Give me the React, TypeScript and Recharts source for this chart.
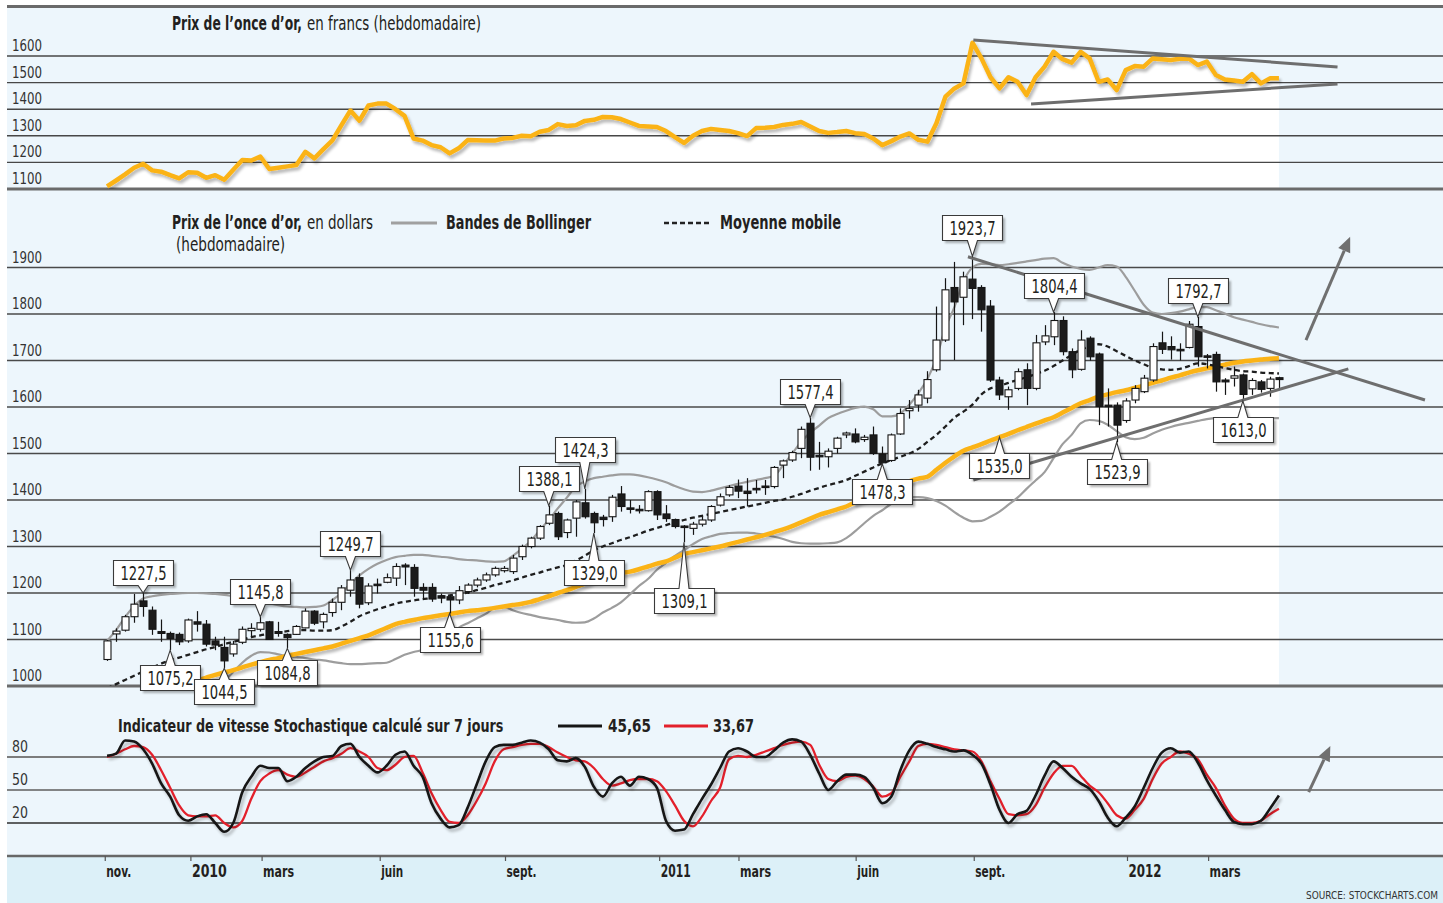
import React, { useLayoutEffect, useRef, useState } from 'react';
import { ComposedChart, Line, Area, Bar, XAxis, YAxis, ReferenceLine, ReferenceDot } from 'recharts';

const FONT = "'DejaVu Sans Condensed','Liberation Sans Narrow','Arial Narrow',sans-serif";
const GOLD = '#fbb316';
const TEXT = '#231f20';

// ---------- weekly candles (USD), index 0 = first week of Nov 2009 ----------
const OPEN = [
  1057,1112,1120,1149,1183,1163,1117,1113,1111,1097,
  1138,1133,1097,1083,1069,1094,1119,1122,1138,1117,
  1111,1111,1125,1161,1138,1158,1180,1206,1233,1179,
  1219,1223,1232,1260,1255,1212,1212,1194,1192,1185,
  1203,1217,1228,1239,1248,1246,1278,1300,1318,1350,
  1371,1330,1361,1394,1371,1363,1364,1413,1383,1380,
  1377,1418,1370,1358,1344,1339,1348,1357,1389,1411,
  1430,1419,1425,1430,1429,1475,1486,1511,1565,1496,
  1493,1511,1540,1542,1530,1540,1499,1485,1542,1592,
  1604,1619,1680,1744,1857,1836,1875,1857,1817,1658,
  1622,1640,1680,1640,1740,1751,1786,1719,1681,1748,
  1714,1604,1604,1571,1615,1633,1658,1738,1730,1724,
  1728,1773,1710,1713,1658,1662,1669,1639,1654,1640,
  1663,
];
const CLOSE = [
  1097,1118,1149,1176,1171,1122,1113,1102,1095,1142,
  1133,1090,1088,1054,1090,1122,1124,1136,1100,1113,
  1104,1128,1161,1135,1154,1180,1211,1228,1176,1215,
  1216,1233,1257,1256,1210,1206,1187,1189,1185,1205,
  1217,1228,1239,1253,1253,1275,1300,1318,1343,1368,
  1321,1357,1396,1364,1351,1358,1406,1386,1380,1377,
  1418,1368,1360,1343,1342,1348,1357,1386,1407,1427,
  1419,1414,1423,1428,1470,1484,1502,1552,1492,1494,
  1505,1533,1544,1525,1535,1500,1480,1540,1586,1597,
  1626,1659,1744,1852,1826,1880,1855,1809,1658,1626,
  1637,1676,1640,1738,1753,1786,1719,1680,1744,1708,
  1601,1601,1561,1613,1640,1662,1730,1724,1723,1721,
  1778,1708,1708,1654,1654,1667,1627,1657,1638,1660,
  1659,
];
const HIGH = [
  1099,1124,1153,1198,1200,1171,1143,1117,1115,1145,
  1161,1142,1106,1106,1097,1128,1135,1149,1140,1138,
  1113,1131,1167,1163,1158,1188,1217,1249,1242,1221,
  1231,1242,1264,1264,1262,1221,1221,1199,1196,1215,
  1221,1233,1244,1257,1258,1282,1304,1321,1346,1388,
  1375,1360,1400,1424,1375,1368,1411,1430,1400,1389,
  1421,1421,1389,1360,1346,1353,1364,1389,1414,1432,
  1444,1447,1443,1443,1473,1487,1506,1558,1577,1525,
  1511,1536,1547,1554,1540,1558,1515,1543,1597,1615,
  1637,1677,1816,1877,1912,1891,1924,1862,1830,1665,
  1644,1683,1694,1755,1776,1804,1795,1726,1765,1752,
  1717,1640,1610,1619,1647,1669,1737,1762,1752,1737,
  1785,1794,1714,1719,1662,1687,1672,1662,1658,1665,
  1665,
];
const LOW = [
  1054,1095,1117,1136,1149,1110,1095,1077,1088,1093,
  1117,1085,1077,1038,1063,1090,1106,1117,1099,1106,
  1081,1110,1124,1131,1124,1149,1163,1192,1167,1174,
  1199,1221,1215,1217,1192,1185,1181,1178,1156,1176,
  1198,1212,1224,1235,1244,1241,1271,1296,1314,1346,
  1314,1318,1321,1360,1329,1343,1353,1375,1371,1371,
  1375,1357,1353,1339,1309,1325,1343,1353,1386,1407,
  1404,1386,1414,1411,1425,1447,1482,1490,1463,1465,
  1470,1500,1533,1522,1525,1497,1478,1482,1540,1575,
  1590,1608,1676,1740,1701,1776,1789,1762,1654,1615,
  1594,1636,1604,1636,1733,1733,1711,1662,1678,1700,
  1561,1558,1524,1566,1608,1630,1654,1714,1702,1700,
  1726,1687,1683,1633,1626,1644,1613,1626,1631,1622,
  1640,
];
// long moving average (yellow)
const MA_LONG = [
  null,null,null,null,null,985,990,995,1001,1007,
  1012,1018,1024,1029,1034,1040,1046,1051,1056,1060,
  1065,1069,1073,1077,1081,1085,1091,1097,1103,1109,
  1117,1125,1133,1138,1142,1146,1149,1152,1155,1158,
  1161,1163,1165,1168,1171,1174,1177,1181,1187,1193,
  1200,1206,1213,1220,1229,1236,1240,1243,1246,1251,
  1257,1263,1268,1276,1284,1288,1292,1296,1300,1305,
  1310,1315,1320,1325,1331,1337,1344,1352,1360,1368,
  1374,1380,1386,1395,1403,1410,1417,1423,1429,1440,
  1446,1450,1465,1480,1494,1506,1513,1520,1528,1535,
  1542,1550,1557,1564,1571,1578,1588,1598,1608,1615,
  1622,1627,1632,1636,1641,1646,1652,1657,1663,1668,
  1674,1679,1683,1687,1691,1695,1698,1700,1702,1704,
  1705,
];
// short moving average (dashed)
const MA_SHORT = [
  995,1004,1013,1022,1031,1040,1048,1055,1061,1067,
  1073,1079,1084,1090,1095,1100,1105,1109,1112,1115,
  1118,1120,1120,1119,1119,1120,1128,1138,1150,1158,
  1165,1171,1177,1181,1184,1187,1189,1192,1195,1198,
  1201,1206,1211,1217,1222,1227,1233,1239,1244,1250,
  1255,1260,1270,1280,1292,1300,1307,1314,1320,1327,
  1334,1340,1346,1352,1357,1362,1366,1370,1374,1378,
  1382,1386,1390,1394,1398,1401,1407,1413,1420,1426,
  1432,1437,1443,1452,1461,1470,1479,1486,1493,1500,
  1510,1525,1540,1558,1577,1590,1605,1627,1640,1645,
  1652,1658,1664,1671,1678,1688,1700,1712,1723,1730,
  1735,1730,1720,1710,1700,1692,1684,1681,1680,1682,
  1688,1694,1692,1688,1684,1680,1677,1676,1674,1673,
  1672,
];
const BB_UPPER = [
  1097,1120,1148,1172,1188,1193,1196,1198,1199,1200,
  1200,1199,1198,1196,1193,1190,1186,1182,1178,1174,
  1171,1170,1169,1170,1173,1185,1200,1220,1238,1252,
  1263,1271,1277,1280,1282,1282,1280,1278,1276,1273,
  1271,1270,1268,1267,1268,1280,1295,1312,1335,1357,
  1382,1405,1429,1440,1447,1450,1453,1455,1455,1453,
  1449,1444,1438,1430,1423,1418,1417,1420,1425,1430,
  1435,1439,1443,1447,1452,1475,1500,1525,1545,1560,
  1576,1585,1592,1598,1601,1595,1580,1580,1586,1605,
  1630,1660,1705,1770,1815,1870,1900,1908,1907,1905,
  1907,1910,1913,1916,1919,1920,1910,1902,1897,1895,
  1900,1905,1902,1880,1850,1820,1803,1800,1802,1805,
  1810,1815,1815,1808,1801,1793,1788,1783,1778,1774,
  1771,
];
const BB_LOWER = [
  990,982,975,970,965,962,960,960,961,963,
  966,975,990,1010,1030,1050,1065,1073,1072,1068,
  1064,1062,1060,1057,1055,1052,1049,1047,1047,1048,
  1049,1050,1058,1067,1073,1077,1082,1090,1105,1125,
  1135,1145,1155,1168,1170,1163,1157,1153,1148,1145,
  1142,1138,1136,1137,1145,1158,1168,1180,1197,1215,
  1230,1250,1265,1280,1292,1305,1316,1322,1327,1329,
  1330,1330,1328,1325,1321,1316,1310,1307,1306,1306,
  1307,1309,1318,1333,1350,1366,1378,1392,1401,1406,
  1406,1404,1398,1388,1374,1362,1354,1355,1364,1375,
  1390,1405,1424,1442,1460,1490,1520,1540,1565,1572,
  1570,1562,1548,1535,1531,1534,1543,1551,1557,1562,
  1566,1570,1574,1576,1576,1575,1574,1574,1575,1576,
  1576,
];
// weekly gold price in francs (top panel)
const FRANCS = [
  1110,1132,1155,1180,1195,1170,1165,1152,1140,1163,
  1161,1142,1152,1135,1172,1209,1207,1222,1175,1180,
  1185,1190,1240,1215,1250,1283,1340,1395,1357,1414,
  1421,1421,1400,1375,1290,1282,1265,1257,1234,1253,
  1284,1283,1282,1282,1290,1292,1300,1298,1315,1322,
  1344,1337,1340,1356,1360,1371,1370,1363,1350,1337,
  1335,1333,1318,1295,1273,1300,1318,1326,1322,1318,
  1310,1299,1329,1330,1333,1341,1345,1352,1335,1318,
  1311,1314,1318,1310,1307,1290,1265,1280,1297,1309,
  1285,1278,1347,1447,1478,1497,1650,1591,1520,1478,
  1520,1503,1453,1520,1560,1616,1588,1575,1616,1591,
  1503,1512,1472,1547,1562,1560,1591,1588,1585,1590,
  1591,1566,1579,1529,1512,1508,1503,1532,1497,1516,
  1516,
];
// stochastic oscillator (black %K, red %D)
const STOCH_K = [
  81,83,95,94,87,74,56,44,27,22,
  26,28,20,12,20,48,62,72,70,70,
  58,62,70,76,80,81,90,92,80,72,
  66,72,82,85,72,62,38,24,16,18,
  34,55,76,89,91,91,93,95,93,87,
  77,76,79,71,53,44,56,62,54,62,
  60,52,22,13,14,28,42,55,70,85,
  88,85,80,80,86,93,96,94,82,65,
  50,58,64,64,62,52,38,44,68,86,
  94,92,89,87,85,86,82,74,55,32,
  20,28,31,45,63,76,70,62,56,51,
  40,25,17,25,35,52,70,84,88,84,
  85,75,59,45,32,21,19,19,22,33,
  45,
];
const STOCH_D = [
  80,83,87,90,89,82,68,52,36,27,
  26,26,27,20,16,22,42,58,65,68,
  64,62,66,71,76,79,83,88,85,80,
  70,68,73,80,81,66,47,32,21,20,
  27,40,56,76,87,89,91,92,92,89,
  84,80,77,76,70,60,54,56,59,60,
  60,58,49,36,22,17,26,40,52,78,
  81,80,82,85,88,91,93,94,91,73,
  60,58,62,63,60,53,44,47,62,76,
  90,92,91,89,87,86,85,76,58,42,
  28,27,28,36,52,65,72,72,63,54,
  48,38,27,24,32,42,60,74,80,85,
  83,78,64,52,36,24,20,20,22,28,
  33,
];

// axis ticks
const X_TICKS = [-0.2, 9.3, 17.2, 30.3, 44.2, 61.3, 70.1, 83.1, 96.2, 113.2, 122.2];
const X_TICK_LABELS = ['nov.', '2010', 'mars', 'juin', 'sept.', '2011', 'mars', 'juin', 'sept.', '2012', 'mars'];
const FRANC_TICKS = [1100, 1200, 1300, 1400, 1500, 1600];
const PRICE_TICKS = [1000, 1100, 1200, 1300, 1400, 1500, 1600, 1700, 1800, 1900];
const STOCH_TICKS = [20, 50, 80];

// annotated highs / lows
const ANNOTATIONS = [
  { i: 4, ref: 'high', label: '1227,5' },
  { i: 7, ref: 'low', label: '1075,2' },
  { i: 13, ref: 'low', label: '1044,5' },
  { i: 17, ref: 'high', label: '1145,8' },
  { i: 20, ref: 'low', label: '1084,8' },
  { i: 27, ref: 'high', label: '1249,7' },
  { i: 38, ref: 'low', label: '1155,6' },
  { i: 49, ref: 'high', label: '1388,1' },
  { i: 53, ref: 'high', label: '1424,3' },
  { i: 54, ref: 'low', label: '1329,0' },
  { i: 64, ref: 'low', label: '1309,1' },
  { i: 78, ref: 'high', label: '1577,4' },
  { i: 86, ref: 'low', label: '1478,3' },
  { i: 96, ref: 'high', label: '1923,7' },
  { i: 99, ref: 'ma', label: '1535,0' },
  { i: 105, ref: 'high', label: '1804,4' },
  { i: 112, ref: 'low', label: '1523,9' },
  { i: 121, ref: 'high', label: '1792,7' },
  { i: 126, ref: 'low', label: '1613,0' },
];
// trend lines / arrows in data coordinates (week index, value)
const TOP_TRENDS = [
  [{ x: 96.1, y: 1660 }, { x: 136.5, y: 1559 }],
  [{ x: 102.5, y: 1420 }, { x: 136.5, y: 1495 }],
];
const PRICE_TRENDS = [
  [{ x: 95.5, y: 1923 }, { x: 146.2, y: 1615 }],
  [{ x: 96.1, y: 1443 }, { x: 137.7, y: 1682 }],
];
const PRICE_ARROW = [{ x: 133, y: 1744 }, { x: 137.9, y: 1966 }];
const STOCH_ARROW = [{ x: 133.3, y: 48 }, { x: 135.7, y: 90 }];

// ---------- layout (not data) ----------
const X_DOMAIN: [number, number] = [-11.1, 148.2];
const W = 1443;
const ANNOT_GAP: Record<string, number> = {
  '1227,5': 8, '1075,2': 15, '1044,5': 11, '1145,8': 13, '1084,8': 12, '1249,7': 14,
  '1155,6': 14, '1388,1': 15, '1424,3': 27, '1329,0': 27, '1309,1': 46, '1577,4': 14,
  '1478,3': 15, '1923,7': 16, '1535,0': 16, '1804,4': 14, '1523,9': 17, '1792,7': 14, '1613,0': 16,
};
const X_LABEL_W: Record<string, number> = { 'nov.': 25, 'mars': 31, 'juin': 22, 'sept.': 30, '2010': 35, '2011': 30, '2012': 33 };

const weeks = OPEN.map((_, i) => i);
const priceData = weeks.map((i) => ({
  i, o: OPEN[i], h: HIGH[i], l: LOW[i], c: CLOSE[i], range: [LOW[i], HIGH[i]],
  bbU: BB_UPPER[i], bbL: BB_LOWER[i], ma: MA_SHORT[i], ma40: MA_LONG[i],
}));
const topData = weeks.map((i) => ({ i, v: FRANCS[i] }));
const stochData = weeks.map((i) => ({ i, k: STOCH_K[i], d: STOCH_D[i] }));

// Text squeezed horizontally (via transform) to a target width, mimicking a condensed face.
const T = ({ x, y, w, size, bold, fill, anchor, children }: any) => {
  const ref = useRef<SVGTextElement>(null);
  const [s, setS] = useState(0.8);
  useLayoutEffect(() => {
    if (ref.current && w) {
      const n = ref.current.getComputedTextLength();
      if (n > 0) setS(w / n);
    }
  }, [w, children, size]);
  return (
    <g transform={`translate(${x},${y}) scale(${s},1)`}>
      <text ref={ref} x={0} y={0} fontSize={size} fontWeight={bold ? 700 : 400} fill={fill || TEXT} fontFamily={FONT}
        textAnchor={anchor || 'start'}>{children}</text>
    </g>
  );
};

const renderYTick = (props: any) => {
  const { y, payload } = props;
  const s = String(payload.value);
  return <T x={12} y={y - 5} w={s.length === 4 ? 30 : 16} size={16.5} fill="#333">{s}</T>;
};

const renderXTick = (props: any) => {
  const { x, payload } = props;
  const idx = X_TICKS.indexOf(payload.value);
  const label = X_TICK_LABELS[idx] ?? '';
  const isYear = /^\d{4}$/.test(label);
  return <T x={x + 1} y={177} w={X_LABEL_W[label]} size={isYear ? 18.5 : 16} bold>{label}</T>;
};

const Candle = (props: any) => {
  const { x, y, width, height, payload } = props;
  if (payload == null || x == null || y == null) return null;
  const top = Math.min(y, y + height);
  const bottom = Math.max(y, y + height);
  const { h, l, o, c } = payload;
  const span = h - l || 1;
  const py = (v: number) => top + ((h - v) / span) * (bottom - top);
  const cx = Math.round(x + width / 2) + 0.5;
  const yo = py(o);
  const yc = py(c);
  const up = c >= o;
  const bt = Math.min(yo, yc);
  const bh = Math.max(1.5, Math.abs(yo - yc));
  return (
    <g>
      <line x1={cx} x2={cx} y1={top} y2={bottom} stroke="#151515" strokeWidth={1.2} />
      <rect x={cx - 3.5} y={bt} width={7} height={bh} fill={up ? '#ffffff' : '#1b1b1b'} stroke="#151515" strokeWidth={1.1} />
    </g>
  );
};

const AnnotBox = ({ cx, cy, label, below, gap }: any) => {
  const w = 60;
  const h = 25;
  const half = 5;
  const L = Math.round(cx - w / 2) + 0.5;
  const R = L + w;
  let d: string;
  let top: number;
  if (!below) {
    const b = Math.round(cy - gap) + 0.5;
    top = b - h;
    d = `M${L},${top} H${R} V${b} H${cx + half} L${cx},${cy} L${cx - half},${b} H${L} Z`;
  } else {
    top = Math.round(cy + gap) + 0.5;
    const b = top + h;
    d = `M${L},${top} H${cx - half} L${cx},${cy} L${cx + half},${top} H${R} V${b} H${L} Z`;
  }
  return (
    <g>
      <path d={d} transform="translate(2.5,2.5)" fill="rgba(0,0,0,0.3)" filter="url(#boxBlur)" />
      <path d={d} fill="#ffffff" stroke="#3a3a3a" strokeWidth={1.1} />
      <T x={(L + R) / 2} y={top + h / 2 + 7} w={46} size={19.5} anchor="middle">{label}</T>
    </g>
  );
};

const ArrowShape = (props: any) => {
  const { x1, y1, x2, y2 } = props;
  if (x1 == null) return null;
  const ang = Math.atan2(y2 - y1, x2 - x1);
  const len = 15;
  const wid = 6.5;
  const bx = x2 - len * Math.cos(ang);
  const by = y2 - len * Math.sin(ang);
  const p1 = `${bx + wid * Math.sin(ang)},${by - wid * Math.cos(ang)}`;
  const p2 = `${bx - wid * Math.sin(ang)},${by + wid * Math.cos(ang)}`;
  return (
    <g>
      <line x1={x1} y1={y1} x2={bx} y2={by} stroke="#707070" strokeWidth={3} />
      <polygon points={`${x2},${y2} ${p1} ${p2}`} fill="#707070" />
    </g>
  );
};

const yAxisCommon = { type: 'number' as const, allowDataOverflow: true, interval: 0, width: 1, axisLine: false, tickLine: false, tick: renderYTick };

function TopChart() {
  return (
    <ComposedChart width={W} height={200} data={topData} margin={{ top: 6, right: 0, bottom: 11, left: 6 }}>
      <XAxis type="number" dataKey="i" domain={X_DOMAIN} hide allowDataOverflow />
      <YAxis {...yAxisCommon} domain={[1100, 1788]} ticks={FRANC_TICKS} />
      <Area type="linear" dataKey="v" stroke="none" fill="#ffffff" fillOpacity={1} isAnimationActive={false} zIndex={100} />
      {FRANC_TICKS.map((t) => (
        <ReferenceLine key={t} y={t} stroke={t === 1100 ? '#6b6b6b' : '#474747'} strokeWidth={t === 1100 ? 3 : 1.4} zIndex={150} />
      ))}
      <Line type="linear" dataKey="v" stroke={GOLD} strokeWidth={4.5} strokeLinejoin="round" dot={false} activeDot={false}
        isAnimationActive={false} filter="url(#lineShadow)" zIndex={400} />
      {TOP_TRENDS.map((seg, k) => (
        <ReferenceLine key={`tt${k}`} segment={seg} stroke="#6e6e6e" strokeWidth={3} ifOverflow="visible" zIndex={500} />
      ))}
    </ComposedChart>
  );
}

function PriceChart() {
  return (
    <ComposedChart width={W} height={520} data={priceData} margin={{ top: 31, right: 0, bottom: 24, left: 6 }}>
      <XAxis type="number" dataKey="i" domain={X_DOMAIN} hide allowDataOverflow />
      <YAxis {...yAxisCommon} domain={[1000, 2000]} ticks={PRICE_TICKS} />
      <Area type="monotone" dataKey="ma40" stroke="none" fill="#ffffff" fillOpacity={1} baseValue={1000}
        isAnimationActive={false} zIndex={100} />
      {PRICE_TICKS.map((t) => (
        <ReferenceLine key={t} y={t} stroke={t === 1000 ? '#6b6b6b' : '#4a4a4a'} strokeWidth={t === 1000 ? 3 : 1.3} zIndex={150} />
      ))}
      <Line type="monotone" dataKey="bbU" stroke="#9d9d9d" strokeWidth={2.2} dot={false} activeDot={false} isAnimationActive={false} zIndex={400} />
      <Line type="monotone" dataKey="bbL" stroke="#9d9d9d" strokeWidth={2.2} dot={false} activeDot={false} isAnimationActive={false} zIndex={400} />
      <Line type="monotone" dataKey="ma40" stroke={GOLD} strokeWidth={4.5} dot={false} activeDot={false} isAnimationActive={false}
        filter="url(#lineShadow)" zIndex={400} />
      <Line type="monotone" dataKey="ma" stroke="#1e1e1e" strokeWidth={2.3} strokeDasharray="5 3.5" dot={false} activeDot={false}
        isAnimationActive={false} zIndex={400} />
      <Bar dataKey="range" barSize={7} isAnimationActive={false} shape={(p: any) => <Candle {...p} />} zIndex={450} />
      {PRICE_TRENDS.map((seg, k) => (
        <ReferenceLine key={`pt${k}`} segment={seg} stroke="#6e6e6e" strokeWidth={3} ifOverflow="visible" zIndex={500} />
      ))}
      <ReferenceLine segment={PRICE_ARROW} ifOverflow="visible" zIndex={500} shape={(p: any) => <ArrowShape {...p} />} />
      {ANNOTATIONS.map((a) => {
        const value = a.ref === 'high' ? HIGH[a.i] : a.ref === 'low' ? LOW[a.i] : (MA_LONG[a.i] as number);
        const below = a.ref !== 'high';
        return (
          <ReferenceDot key={a.label} x={a.i} y={value} r={0} ifOverflow="visible" zIndex={600}
            shape={(p: any) => <AnnotBox cx={p.cx} cy={p.cy} label={a.label} below={below} gap={ANNOT_GAP[a.label]} />} />
        );
      })}
    </ComposedChart>
  );
}

function StochChart() {
  return (
    <ComposedChart width={W} height={203} data={stochData} margin={{ top: 35, right: 0, bottom: 0, left: 6 }}>
      <XAxis type="number" dataKey="i" domain={X_DOMAIN} allowDataOverflow ticks={X_TICKS} interval={0} height={47}
        axisLine={{ stroke: '#676767', strokeWidth: 2.5 }} tickLine={{ stroke: '#555', strokeWidth: 1.2 }} tickSize={5}
        tick={renderXTick} />
      <YAxis {...yAxisCommon} domain={[-10, 100]} ticks={STOCH_TICKS} />
      <ReferenceLine y={80} stroke="#7c7c7c" strokeWidth={2} zIndex={150} />
      <ReferenceLine y={50} stroke="#5e5e5e" strokeWidth={1.5} zIndex={150} />
      <ReferenceLine y={20} stroke="#2e2e2e" strokeWidth={1.5} zIndex={150} />
      <Line type="monotone" dataKey="d" stroke="#e3202b" strokeWidth={2.3} dot={false} activeDot={false} isAnimationActive={false} zIndex={400} />
      <Line type="monotone" dataKey="k" stroke="#161616" strokeWidth={2.6} dot={false} activeDot={false} isAnimationActive={false}
        filter="url(#lineShadow)" zIndex={410} />
      <ReferenceLine segment={STOCH_ARROW} ifOverflow="visible" zIndex={500} shape={(p: any) => <ArrowShape {...p} />} />
    </ComposedChart>
  );
}

export default function App() {
  const abs = (top: number): React.CSSProperties => ({ position: 'absolute', left: 0, top });
  return (
    <div style={{ position: 'absolute', left: 0, top: 0, width: W, height: 903, background: '#ffffff', overflow: 'hidden', fontFamily: FONT }}>
      <div style={{ position: 'absolute', left: 7, top: 6, width: W - 7, height: 851, background: '#edf6fc' }} />
      <div style={{ position: 'absolute', left: 7, top: 857, width: W - 7, height: 46, background: '#dcf0f8' }} />
      <div style={{ position: 'absolute', left: 7, top: 5, width: W - 7, height: 3, background: '#6a6a6a' }} />
      <svg width={0} height={0} style={{ position: 'absolute' }}>
        <defs>
          <filter id="lineShadow" x="-5%" y="-30%" width="112%" height="160%">
            <feGaussianBlur in="SourceAlpha" stdDeviation="1.4" />
            <feOffset dx="1.5" dy="2.5" result="off" />
            <feComponentTransfer><feFuncA type="linear" slope="0.28" /></feComponentTransfer>
            <feMerge><feMergeNode /><feMergeNode in="SourceGraphic" /></feMerge>
          </filter>
          <filter id="boxBlur" x="-20%" y="-30%" width="140%" height="160%">
            <feGaussianBlur stdDeviation="1.3" />
          </filter>
        </defs>
      </svg>
      <div style={abs(0)}><TopChart /></div>
      <div style={abs(190)}><PriceChart /></div>
      <div style={abs(700)}><StochChart /></div>
      <svg width={W} height={903} style={{ position: 'absolute', left: 0, top: 0, pointerEvents: 'none' }}>
        {/* top legend */}
        <line x1={117} x2={163} y1={24} y2={24} stroke={GOLD} strokeWidth={5} filter="url(#lineShadow)" />
        <T x={172} y={30} w={130} size={19} bold>Prix de l’once d’or,</T>
        <T x={307} y={30} w={174} size={19}>en francs (hebdomadaire)</T>
        {/* middle legend */}
        <line x1={117} x2={163} y1={223} y2={223} stroke={GOLD} strokeWidth={5} filter="url(#lineShadow)" />
        <T x={172} y={229} w={130} size={19} bold>Prix de l’once d’or,</T>
        <T x={307} y={229} w={66} size={19}>en dollars</T>
        <T x={176} y={251} w={109} size={19}>(hebdomadaire)</T>
        <line x1={391} x2={437} y1={223} y2={223} stroke="#a0a0a0" strokeWidth={3} />
        <T x={446} y={229} w={145} size={19} bold>Bandes de Bollinger</T>
        <line x1={664} x2={710} y1={223} y2={223} stroke="#222" strokeWidth={2.5} strokeDasharray="5 3" />
        <T x={720} y={229} w={121} size={19} bold>Moyenne mobile</T>
        {/* stochastic legend */}
        <T x={118} y={732} w={385} size={18} bold>Indicateur de vitesse Stochastique calculé sur 7 jours</T>
        <line x1={558} x2={602} y1={726} y2={726} stroke="#161616" strokeWidth={3} />
        <T x={608} y={732} w={43} size={18} bold>45,65</T>
        <line x1={664} x2={708} y1={726} y2={726} stroke="#e3202b" strokeWidth={3} />
        <T x={713} y={732} w={41} size={18} bold>33,67</T>
        <T x={1306} y={899} w={132} size={10.5} fill="#333">SOURCE: STOCKCHARTS.COM</T>
      </svg>
    </div>
  );
}
